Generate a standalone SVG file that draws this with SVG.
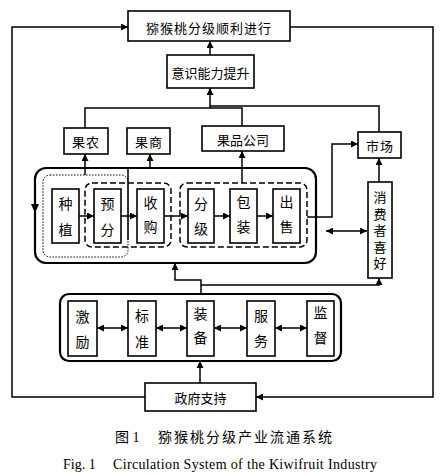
<svg xmlns="http://www.w3.org/2000/svg" width="442" height="475" viewBox="0 0 442 475">
<style>
.box{fill:#fff;stroke:#000;stroke-width:1.6}
.grp{fill:none;stroke:#000;stroke-width:2.2}
.ln{fill:none;stroke:#000;stroke-width:1.5}
.dash{fill:none;stroke:#000;stroke-width:1.5;stroke-dasharray:6 3}
.dot{fill:none;stroke:#000;stroke-width:1;stroke-dasharray:1.5 1.5}
.t{font-family:"Noto Sans CJK SC","Noto Sans",sans-serif;font-size:13px;fill:#000;text-anchor:middle;dominant-baseline:central}
.v{font-family:"Noto Sans CJK SC","Noto Sans",sans-serif;font-size:14px;fill:#000;text-anchor:middle;dominant-baseline:central}
.s{font-family:"Noto Sans CJK SC","Noto Sans",sans-serif;font-size:13px;fill:#000;text-anchor:middle;writing-mode:vertical-rl;letter-spacing:3.5px}
.cap{font-family:"Liberation Serif","Noto Sans CJK SC",serif;font-size:14px;fill:#000}
</style>
<defs>
<marker id="a" viewBox="0 0 10 10" refX="10" refY="5" markerUnits="userSpaceOnUse" markerWidth="8" markerHeight="7" orient="auto-start-reverse">
<path d="M0,0 L10,5 L0,10 z" fill="#000"/>
</marker>
</defs>
<rect width="442" height="475" fill="#fff"/>

<g id="groups">
<rect class="grp" x="35" y="168" width="281" height="95" rx="11"/>
<rect class="dot" x="43" y="175" width="85" height="82" rx="7"/>
<rect class="dash" x="85" y="183" width="86" height="64" rx="7"/>
<rect class="dash" x="180" y="183" width="127" height="64" rx="7"/>
<rect class="grp" x="60" y="294" width="281" height="67" rx="9"/>
<line class="ln" x1="128" y1="168" x2="128" y2="240" stroke-width="1"/>
<polygon points="31,204 39,204 35,213" fill="#000"/>
</g>

<g id="connectors">
<path class="ln" d="M145,397 H12 V27 H128" marker-end="url(#a)"/>
<path class="ln" d="M290,27 H433 V397 H256" marker-end="url(#a)"/>
<path class="ln" d="M210,55 V41" marker-end="url(#a)"/>
<path class="ln" d="M210,108 V88" marker-end="url(#a)"/>
<path class="ln" d="M85,128 V108 H242 V126"/>
<path class="ln" d="M210,106 H379 V132"/>
<path class="ln" d="M85,175 V154" marker-end="url(#a)"/>
<path class="ln" d="M150,168 V154" marker-end="url(#a)"/>
<path class="ln" d="M242,183 V151" marker-end="url(#a)"/>
<path class="ln" d="M307,217 H332 V144 H358" marker-end="url(#a)"/>
<path class="ln" d="M379,182 V158" marker-end="url(#a)"/>
<path class="ln" d="M326,231 H367" marker-start="url(#a)" marker-end="url(#a)"/>
<path class="ln" d="M200,383 V361" marker-end="url(#a)"/>
<path class="ln" d="M201,294 V280 H175 V263" marker-end="url(#a)"/>
<path class="ln" d="M201,285 H379 V278" marker-end="url(#a)"/>
<path class="ln" d="M79,216 H94" marker-end="url(#a)"/>
<path class="ln" d="M121,216 H137" marker-end="url(#a)"/>
<path class="ln" d="M164,216 H188" marker-end="url(#a)"/>
<path class="ln" d="M214,216 H230" marker-end="url(#a)"/>
<path class="ln" d="M257,216 H273" marker-end="url(#a)"/>
<path class="ln" d="M97,328 H128" marker-start="url(#a)" marker-end="url(#a)"/>
<path class="ln" d="M156,328 H187" marker-start="url(#a)" marker-end="url(#a)"/>
<path class="ln" d="M214,328 H247" marker-start="url(#a)" marker-end="url(#a)"/>
<path class="ln" d="M275,328 H307" marker-start="url(#a)" marker-end="url(#a)"/>
</g>

<g id="top"><rect class="box" x="128" y="11" width="162" height="30"/><text class="t" x="209" y="27" letter-spacing="1">猕猴桃分级顺利进行</text></g>
<g id="yishi"><rect class="box" x="167" y="55" width="87" height="33"/><text class="t" x="210.5" y="72">意识能力提升</text></g>
<g id="guonong"><rect class="box" x="64" y="128" width="44" height="26"/><text class="t" x="86" y="141" letter-spacing="1">果农</text></g>
<g id="guoshang"><rect class="box" x="127" y="128" width="43" height="26"/><text class="t" x="149" y="141" letter-spacing="1">果商</text></g>
<g id="guopin"><rect class="box" x="202" y="126" width="82" height="25"/><text class="t" x="243" y="139">果品公司</text></g>
<g id="shichang"><rect class="box" x="358" y="132" width="43" height="26"/><text class="t" x="380" y="145" letter-spacing="1">市场</text></g>
<g id="xiaofei"><rect class="box" x="368" y="182" width="24" height="96"/>
<text class="s" x="380" y="232">消费者喜好</text></g>

<g id="zhongzhi"><rect class="box" x="52" y="189" width="27" height="54"/><text class="v" x="65.5" y="203">种</text><text class="v" x="65.5" y="229">植</text></g>
<g id="yufen"><rect class="box" x="94" y="189" width="27" height="54"/><text class="v" x="107.5" y="203">预</text><text class="v" x="107.5" y="229">分</text></g>
<g id="shougou"><rect class="box" x="137" y="189" width="27" height="54"/><text class="v" x="150.5" y="202">收</text><text class="v" x="150.5" y="226">购</text></g>
<g id="fenji"><rect class="box" x="188" y="189" width="26" height="54"/><text class="v" x="201" y="203">分</text><text class="v" x="201" y="228">级</text></g>
<g id="baozhuang"><rect class="box" x="230" y="189" width="27" height="54"/><text class="v" x="243.5" y="201">包</text><text class="v" x="243.5" y="226">装</text></g>
<g id="chushou"><rect class="box" x="273" y="189" width="27" height="54"/><text class="v" x="286.5" y="201">出</text><text class="v" x="286.5" y="226">售</text></g>

<g id="jili"><rect class="box" x="68" y="301" width="29" height="55"/><text class="v" x="82.5" y="316">激</text><text class="v" x="82.5" y="341">励</text></g>
<g id="biaozhun"><rect class="box" x="128" y="301" width="28" height="55"/><text class="v" x="142" y="315">标</text><text class="v" x="142" y="341">准</text></g>
<g id="zhuangbei"><rect class="box" x="187" y="301" width="27" height="55"/><text class="v" x="200.5" y="313">装</text><text class="v" x="200.5" y="337">备</text></g>
<g id="fuwu"><rect class="box" x="247" y="301" width="28" height="55"/><text class="v" x="261" y="315">服</text><text class="v" x="261" y="340">务</text></g>
<g id="jiandu"><rect class="box" x="307" y="301" width="27" height="55"/><text class="v" x="320.5" y="312">监</text><text class="v" x="320.5" y="337">督</text></g>

<g id="zhengfu"><rect class="box" x="145" y="383" width="111" height="28"/><text class="t" x="200.5" y="397">政府支持</text></g>

<g id="caption">
<text class="cap" x="115" y="442" font-size="13">图 1</text>
<text class="cap" x="158" y="442" font-size="13" letter-spacing="2" font-family="Noto Sans CJK SC, sans-serif">猕猴桃分级产业流通系统</text>
<text class="cap" x="63" y="469" font-size="13">Fig. 1</text>
<text class="cap" x="113" y="469" font-size="13" textLength="264">Circulation System of the Kiwifruit Industry</text>
</g>
</svg>
